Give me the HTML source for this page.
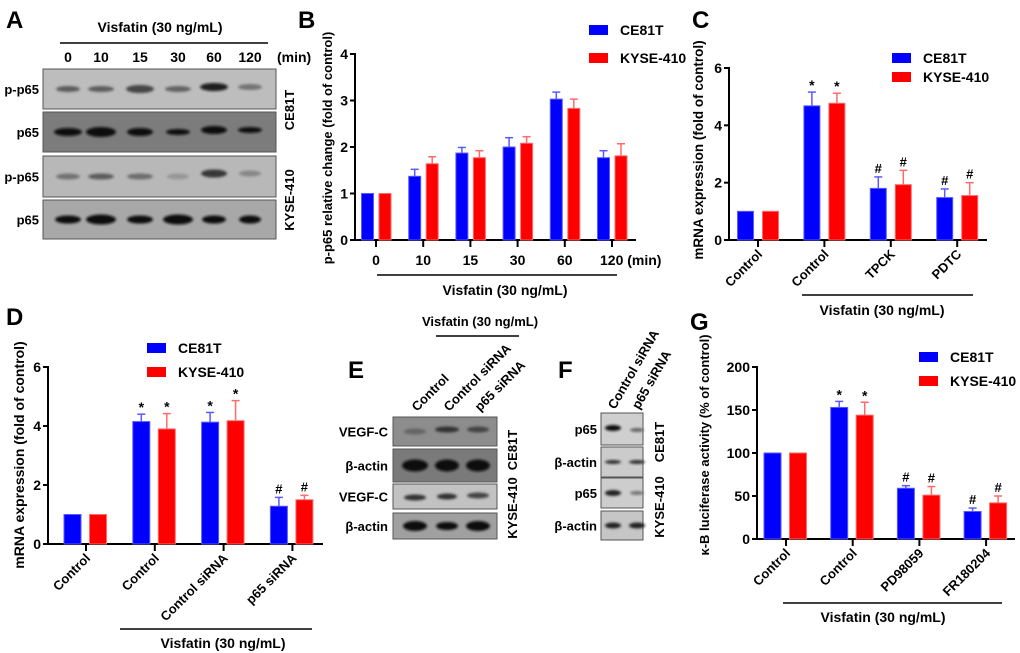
<!DOCTYPE html>
<html><head><meta charset="utf-8">
<style>
html,body{margin:0;padding:0;background:#fff;}
svg{display:block;font-family:"Liberation Sans",Arial,sans-serif;font-weight:bold;}
</style></head>
<body>
<svg id="fig" width="1020" height="653" viewBox="0 0 1020 653">
<defs>
<filter id="blur" x="-20%" y="-50%" width="140%" height="200%"><feGaussianBlur stdDeviation="1.2"/></filter>
</defs>
<text x="6" y="28" font-size="24">A</text>
<text x="298" y="28" font-size="24">B</text>
<text x="692" y="28" font-size="24">C</text>
<text x="6" y="325" font-size="24">D</text>
<text x="348" y="378" font-size="24">E</text>
<text x="558" y="378" font-size="24">F</text>
<text x="690" y="330" font-size="24">G</text>
<g id="blots"></g>
<g id="charts"></g>
</svg>
<script>
const seriesNames = ["CE81T", "KYSE-410"];
const bCats = ["0", "10", "15", "30", "60", "120 (min)"];
const bCE = [1, 1.37, 1.87, 2.0, 3.03, 1.77];
const bCEerr = [0, 0.15, 0.12, 0.2, 0.15, 0.15];
const bKY = [1, 1.64, 1.77, 2.08, 2.83, 1.81];
const bKYerr = [0, 0.15, 0.15, 0.14, 0.2, 0.26];
const bTicks = [0, 1, 2, 3, 4];

const cCats = ["Control", "Control", "TPCK", "PDTC"];
const cCE = [1, 4.68, 1.8, 1.48];
const cCEerr = [0, 0.48, 0.4, 0.3];
const cKY = [1, 4.77, 1.93, 1.55];
const cKYerr = [0, 0.35, 0.5, 0.45];
const cMarks = ["", "*", "#", "#"];
const cTicks = [0, 2, 4, 6];

const dCats = ["Control", "Control", "Control siRNA", "p65 siRNA"];
const dCE = [1, 4.15, 4.13, 1.28];
const dCEerr = [0, 0.25, 0.33, 0.3];
const dKY = [1, 3.9, 4.18, 1.5];
const dKYerr = [0, 0.52, 0.68, 0.15];
const dMarks = ["", "*", "*", "#"];
const dTicks = [0, 2, 4, 6];

const gCats = ["Control", "Control", "PD98059", "FR180204"];
const gCE = [100, 153, 59, 32];
const gCEerr = [0, 7, 3, 4];
const gKY = [100, 144, 51, 42];
const gKYerr = [0, 15, 10, 8];
const gMarks = ["", "*", "#", "#"];
const gTicks = [0, 50, 100, 150, 200];

const NS = "http://www.w3.org/2000/svg";
function mk(parent, tag, attrs, text) {
  const e = document.createElementNS(NS, tag);
  for (const k in attrs) e.setAttribute(k, attrs[k]);
  if (text !== undefined) e.textContent = text;
  parent.appendChild(e);
  return e;
}
const charts = document.getElementById("charts");

function drawChart(o) {
  const g = mk(charts, "g", {});
  
  
  const max = o.ticks[o.ticks.length - 1];
  const y = v => o.yBot - (v / max) * (o.yBot - o.yTop);
  const x = i => o.firstX + i * o.step;
  const ya = mk(g, "line", {x1: o.x0, y1: o.yTop - 1, x2: o.x0, y2: o.yBot + 1, stroke: "#000", "stroke-width": 2});
  
  
  const xa = mk(g, "line", {x1: o.x0 - 1, y1: o.yBot, x2: o.xEnd, y2: o.yBot, stroke: "#000", "stroke-width": 2});
  
  
  o.ticks.forEach(t => {
    mk(g, "line", {x1: o.x0 - 5, y1: y(t), x2: o.x0, y2: y(t), stroke: "#000", "stroke-width": 2});
    const tl = mk(g, "text", {x: o.x0 - 7, y: y(t) + 5, "font-size": 14, "text-anchor": "end"}, String(t));
    
    
  });
  const yt = mk(g, "text", {x: 0, y: 0, "font-size": o.ytSize || 13, "text-anchor": "middle",
    transform: `translate(${o.ytX},${o.ytY}) rotate(-90)`}, o.yTitle);
  
  
  o.cats.forEach((c, i) => {
    mk(g, "line", {x1: x(i), y1: o.yBot, x2: x(i), y2: o.yBot + 7, stroke: "#000", "stroke-width": 2});
    let lab;
    if (o.rot) {
      lab = mk(g, "text", {x: 0, y: 0, "font-size": 13, "text-anchor": "end",
        transform: `translate(${x(i) + 5},${o.yBot + 15}) rotate(-45)`}, c);
    } else {
      lab = mk(g, "text", {x: x(i), y: o.yBot + 25, "font-size": 14, "text-anchor": c.length > 4 ? "start" : "middle", dx: c.length > 4 ? -12 : 0}, c);
    }
    
    
  });
  const series = [[o.ce, o.ceErr, "#0000ff", "#5a5aff", -o.off], [o.ky, o.kyErr, "#ff0000", "#ff6a6a", o.off2]];
  series.forEach((s, si) => {
    s[0].forEach((v, i) => {
      const cx = x(i) + s[4];
      const top = y(v);
      const r = mk(g, "rect", {x: cx - o.bw / 2, y: top, width: o.bw, height: o.yBot - top, fill: s[2], stroke: s[3], "stroke-width": 1});
      
      
      const e = s[1][i];
      if (e > 0) {
        const et = y(v + e);
        mk(g, "line", {x1: cx, y1: top, x2: cx, y2: et, stroke: s[3], "stroke-width": 1.5});
        mk(g, "line", {x1: cx - 4, y1: et, x2: cx + 4, y2: et, stroke: s[3], "stroke-width": 1.5});
      }
      if (o.marks && o.marks[i]) {
        const mt = mk(g, "text", {x: cx, y: y(v + e) - (o.marks[i] === "*" ? 2 : 4), "font-size": o.marks[i] === "*" ? 14 : 13, "text-anchor": "middle"}, o.marks[i]);
        
        
      }
    });
  });
  const lg = mk(g, "g", {});
  
  
  [["#0000ff", seriesNames[0]], ["#ff0000", seriesNames[1]]].forEach((l, i) => {
    const ly = o.legY + i * o.legGap;
    mk(lg, "rect", {x: o.legX, y: ly, width: 19, height: 10, fill: l[0]});
    const lt = mk(lg, "text", {x: o.legX + 31, y: ly + 10, "font-size": 14}, l[1]);
    
    
  });
  mk(g, "line", {x1: o.ulX1, y1: o.ulY, x2: o.ulX2, y2: o.ulY, stroke: "#000", "stroke-width": 1.5});
  const vl = mk(g, "text", {x: o.vlX, y: o.vlY, "font-size": 14, "text-anchor": "middle"}, o.vlText || "Visfatin (30 ng/mL)");
  
  
}

drawChart({name: "chart-b", x0: 355, xEnd: 636, yTop: 54, yBot: 240, ticks: bTicks, cats: bCats,
  firstX: 376, step: 47.2, bw: 12, off: 8.5, off2: 9, ce: bCE, ceErr: bCEerr, ky: bKY, kyErr: bKYerr,
  yTitle: "p-p65 relative change (fold of control)", ytX: 332, ytY: 148, legX: 589, legY: 25, legGap: 28,
  ulX1: 377, ulX2: 617, ulY: 275, vlX: 505, vlY: 295});
drawChart({name: "chart-c", x0: 729, xEnd: 987, yTop: 68, yBot: 240, ticks: cTicks, cats: cCats,
  firstX: 758, step: 66.4, bw: 16, off: 12.5, off2: 12.5, ce: cCE, ceErr: cCEerr, ky: cKY, kyErr: cKYerr, marks: cMarks,
  yTitle: "mRNA expression (fold of control)", ytX: 703, ytY: 150, ytSize: 13.5, legX: 892, legY: 53, legGap: 19, rot: true,
  ulX1: 802, ulX2: 973, ulY: 295, vlX: 882, vlY: 315, vlText: "Visfatin  (30 ng/mL)"});
drawChart({name: "chart-d", x0: 48, xEnd: 323, yTop: 367, yBot: 544, ticks: dTicks, cats: dCats,
  firstX: 86, step: 68.8, bw: 17, off: 13.5, off2: 12, ce: dCE, ceErr: dCEerr, ky: dKY, kyErr: dKYerr, marks: dMarks,
  yTitle: "mRNA expression (fold of control)", ytX: 24, ytY: 455, ytSize: 14, legX: 147, legY: 343, legGap: 24, rot: true,
  ulX1: 120, ulX2: 312, ulY: 629, vlX: 223, vlY: 648});
drawChart({name: "chart-g", x0: 757, xEnd: 1015, yTop: 367, yBot: 539, ticks: gTicks, cats: gCats,
  firstX: 786, step: 66.7, bw: 17, off: 13.5, off2: 12, ce: gCE, ceErr: gCEerr, ky: gKY, kyErr: gKYerr, marks: gMarks,
  yTitle: "\u03BA-B luciferase activity (% of control)", ytX: 709, ytY: 445, ytSize: 13, legX: 919, legY: 352, legGap: 24, rot: true,
  ulX1: 783, ulX2: 1002, ulY: 603, vlX: 883, vlY: 622});

const blots = document.getElementById("blots");
function blot(name, x1, x2, y1, y2, bg, lanes, band, label, labX) {
  const g = mk(blots, "g", {});
  
  
  mk(g, "rect", {x: x1, y: y1, width: x2 - x1, height: y2 - y1, fill: bg, stroke: "#555", "stroke-width": 1});
  const cy = (y1 + y2) / 2;
  lanes.forEach((lx, i) => {
    const b = band[i];
    mk(g, "ellipse", {cx: lx, cy: cy + (b[2] || 0), rx: b[0], ry: b[1], fill: b[3] || "#111", opacity: b[4] || 1, filter: "url(#blur)"});
  });
  const t = mk(g, "text", {x: labX, y: cy + 5, "font-size": 13, "text-anchor": "end"}, label);
  
  
}
function txt(x, y, s, size, anchor, rot, name) {
  const t = mk(blots, "text", rot ? {x: 0, y: 0, "font-size": size, "text-anchor": anchor, transform: `translate(${x},${y}) rotate(${rot})`} : {x: x, y: y, "font-size": size, "text-anchor": anchor}, s);
  
  
}
const aLanes = [68, 101, 140, 178, 214, 250];
blot("blot-a-pp65-ce81t", 43, 276, 69, 109, "#bdbdbd", aLanes,
  [[12,3,0,"#444",.8],[13,3,0,"#444",.8],[14,4,0,"#333",.85],[13,3,0,"#444",.75],[14,4,-2,"#111",.9],[12,3,-2,"#555",.7]], "p-p65", 39);
blot("blot-a-p65-ce81t", 43, 276, 112, 152, "#7c7c7c", aLanes,
  [[14,4],[15,5],[13,4],[12,3],[13,4,-2],[12,3,-2]], "p65", 39);
blot("blot-a-pp65-kyse", 43, 276, 156, 197, "#b8b8b8", aLanes,
  [[12,3,0,"#555",.7],[13,3,0,"#444",.8],[13,3,0,"#555",.75],[11,3,0,"#777",.5],[13,4,-3,"#222",.85],[11,3,-3,"#666",.6]], "p-p65", 39);
blot("blot-a-p65-kyse", 43, 276, 200, 239, "#a8a8a8", aLanes,
  [[13,4],[15,5],[13,4],[15,5],[12,4],[11,4]], "p65", 39);
txt(160, 32, "Visfatin (30 ng/mL)", 14, "middle", 0, "blot-a-treatment-label");
mk(blots, "line", {x1: 60, y1: 43, x2: 268, y2: 43, stroke: "#000", "stroke-width": 1.5});
["0","10","15","30","60","120"].forEach((s, i) => txt(aLanes[i], 62, s, 14, "middle", 0, "blot-a-time-label"));
txt(277, 62, "(min)", 14, "start", 0, "blot-a-unit-label");
txt(294, 110, "CE81T", 13, "middle", -90, "blot-a-cell-label");
txt(294, 200, "KYSE-410", 13, "middle", -90, "blot-a-cell-label");

const eLanes = [415, 447, 478];
blot("blot-e-vegfc-ce81t", 393, 497, 417, 446, "#8d8d8d", eLanes, [[11,3,0,"#555",.7],[12,3,-2,"#222",.85],[11,3,-2,"#333",.8]], "VEGF-C", 388);
blot("blot-e-actin-ce81t", 393, 497, 449, 482, "#7a7a7a", eLanes, [[13,6],[12,6],[12,6]], "\u03B2-actin", 388);
blot("blot-e-vegfc-kyse", 393, 497, 484, 509, "#c2c2c2", eLanes, [[11,3,1,"#333"],[10,3,0,"#333"],[11,3,-1,"#444"]], "VEGF-C", 388);
blot("blot-e-actin-kyse", 393, 497, 513, 539, "#a0a0a0", eLanes, [[12,5],[11,4],[12,5]], "\u03B2-actin", 388);
txt(480, 326, "Visfatin (30 ng/mL)", 13, "middle", 0, "blot-e-treatment-label");
mk(blots, "line", {x1: 436, y1: 336, x2: 519, y2: 336, stroke: "#000", "stroke-width": 1.5});
txt(eLanes[0] + 2, 412, "Control", 13, "start", -45, "blot-e-lane-label");
txt(eLanes[1] + 2, 412, "Control siRNA", 13, "start", -45, "blot-e-lane-label");
txt(eLanes[2] + 2, 412, "p65 siRNA", 13, "start", -45, "blot-e-lane-label");
txt(517, 450, "CE81T", 13, "middle", -90, "blot-e-cell-label");
txt(517, 508, "KYSE-410", 13, "middle", -90, "blot-e-cell-label");

const fLanes = [613, 637];
blot("blot-f-p65-ce81t", 601, 643, 413, 445, "#cfcfcf", fLanes, [[8,3,-1,"#111"],[7,2,1,"#666"]], "p65", 597);
blot("blot-f-actin-ce81t", 601, 643, 447, 477, "#cbcbcb", fLanes, [[8,2,0,"#333"],[8,2,0,"#333"]], "\u03B2-actin", 597);
blot("blot-f-p65-kyse", 601, 643, 478, 508, "#cdcdcd", fLanes, [[8,3,0,"#222"],[7,2,0,"#777"]], "p65", 597);
blot("blot-f-actin-kyse", 601, 643, 511, 540, "#c6c6c6", fLanes, [[8,3,0,"#222"],[8,3,0,"#222"]], "\u03B2-actin", 597);
txt(fLanes[0] + 2, 410, "Control siRNA", 13, "start", -60, "blot-f-lane-label");
txt(fLanes[1] + 2, 410, "p65 siRNA", 13, "start", -60, "blot-f-lane-label");
txt(664, 442, "CE81T", 13, "middle", -90, "blot-f-cell-label");
txt(664, 507, "KYSE-410", 13, "middle", -90, "blot-f-cell-label");
</script>
</body></html>
